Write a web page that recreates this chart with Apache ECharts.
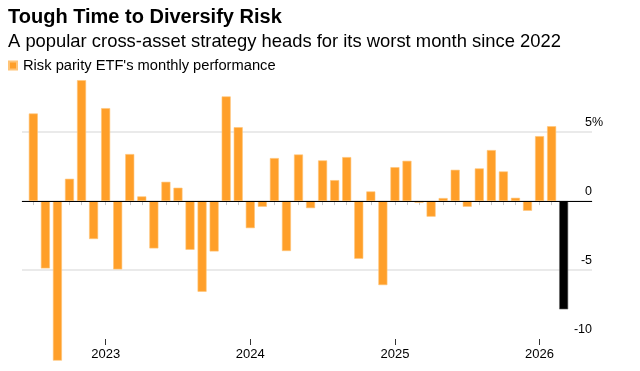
<!DOCTYPE html>
<html>
<head>
<meta charset="utf-8">
<script src="https://cdn.jsdelivr.net/npm/echarts@6/dist/echarts.min.js"></script>
<style>
html,body{margin:0;padding:0;background:#fff;}
#chart{width:640px;height:371px;}
</style>
</head>
<body>
<div id="chart"></div>
<script>
var titleText = "Tough Time to Diversify Risk";
var subtitleText = "A popular cross-asset strategy heads for its worst month since 2022";
var seriesName = "Risk parity ETF's monthly performance";

var months = [
  '2022-07','2022-08','2022-09','2022-10','2022-11','2022-12',
  '2023-01','2023-02','2023-03','2023-04','2023-05','2023-06',
  '2023-07','2023-08','2023-09','2023-10','2023-11','2023-12',
  '2024-01','2024-02','2024-03','2024-04','2024-05','2024-06',
  '2024-07','2024-08','2024-09','2024-10','2024-11','2024-12',
  '2025-01','2025-02','2025-03','2025-04','2025-05','2025-06',
  '2025-07','2025-08','2025-09','2025-10','2025-11','2025-12',
  '2026-01','2026-02','2026-03'
];
var values = [
  6.35, -4.88, -11.57, 1.62, 8.77, -2.75,
  6.74, -4.95, 3.41, 0.34, -3.43, 1.40,
  0.97, -3.53, -6.57, -3.65, 7.59, 5.36,
  -1.96, -0.41, 3.12, -3.62, 3.38, -0.51,
  2.95, 1.52, 3.19, -4.18, 0.70, -6.09,
  2.46, 2.92, -0.12, -1.13, 0.22, 2.27,
  -0.41, 2.37, 3.70, 2.15, 0.24, -0.70,
  4.71, 5.43, -7.85
];
var highlightMonth = '2026-03';
var yearLabels = ['2023', '2024', '2025', '2026'];
var yTicks = [-10, -5, 0, 5];

var ORANGE = '#ff9f29';
var FONT = 'Liberation Sans, Arial, sans-serif';

var yearIdx = yearLabels.map(function (y) { return months.indexOf(y + '-01'); });
var allIdx = months.map(function (m, i) { return i; });

var barData = values.map(function (v, i) {
  var item = { value: [i, v] };
  if (months[i] === highlightMonth) {
    item.itemStyle = { color: '#000', borderColor: '#666' };
  }
  return item;
});

var chart = echarts.init(document.getElementById('chart'), null, { renderer: 'canvas' });
chart.setOption({
  animation: false,
  backgroundColor: '#fff',
  textStyle: { fontFamily: FONT },
  title: [
    { text: titleText, left: 8, top: 7, padding: 0,
      textStyle: { fontFamily: FONT, fontSize: 20, fontWeight: 'bold', color: '#000' } },
    { text: subtitleText, left: 8, top: 33, padding: 0,
      textStyle: { fontFamily: FONT, fontSize: 18.4, fontWeight: 'normal', color: '#000' } }
  ],
  legend: {
    left: 8, top: 58, padding: 0, icon: 'rect', itemWidth: 8, itemHeight: 8, itemGap: 10,
    textStyle: { fontFamily: FONT, fontSize: 14.7, color: '#000', padding: [0, 0, 0, 1] },
    data: [seriesName]
  },
  grid: { left: 22, right: 48, top: 77, bottom: 32, containLabel: false },
  xAxis: [
    {
      type: 'value', min: -0.94, max: 46.35, position: 'bottom',
      splitLine: { show: false },
      axisLine: { show: true, lineStyle: { color: '#c8c8c8', width: 1 } },
      axisTick: { show: true, customValues: allIdx, length: 4, lineStyle: { color: '#c8c8c8' } },
      axisLabel: { show: false }
    },
    {
      type: 'value', min: -0.94, max: 46.35, position: 'bottom',
      splitLine: { show: false },
      axisLine: { show: false },
      axisTick: { show: true, customValues: yearIdx, length: 6, lineStyle: { color: '#333' } },
      axisLabel: {
        show: true, customValues: yearIdx, margin: 9,
        fontFamily: FONT, fontSize: 13, color: '#000',
        formatter: function (v) { return months[Math.round(v)].slice(0, 4); }
      }
    }
  ],
  yAxis: {
    type: 'value', position: 'right', min: -10, max: 9, interval: 5,
    axisLine: { show: false },
    axisTick: { show: false },
    splitLine: { show: true, showMaxLine: false, showMinLine: false,
      lineStyle: { color: '#e3e3e3', width: 1.5 } },
    axisLabel: {
      show: true, showMaxLabel: false, inside: false, align: 'right',
      verticalAlign: 'bottom', margin: 11, padding: [0, 0, 3, 0],
      fontFamily: FONT, fontSize: 12.5, color: '#000',
      formatter: function (v) {
        if (yTicks.indexOf(v) < 0) return '';
        return v === 5 ? '{n|5}{p|%}' : '{n|' + v + '}{p| }';
      },
      rich: {
        n: { fontFamily: FONT, fontSize: 12.5, color: '#000' },
        p: { fontFamily: FONT, fontSize: 12.5, color: '#000', width: 11 }
      }
    }
  },
  series: [{
    name: seriesName,
    type: 'bar',
    xAxisIndex: 0,
    barWidth: 9,
    clip: false,
    itemStyle: { color: ORANGE, borderColor: '#ffc477', borderWidth: 0.6 },
    data: barData,
    markLine: {
      silent: true, symbol: 'none', label: { show: false },
      lineStyle: { color: '#000', width: 1, type: 'solid' },
      data: [{ yAxis: 0 }]
    }
  }]
});
</script>
</body>
</html>
